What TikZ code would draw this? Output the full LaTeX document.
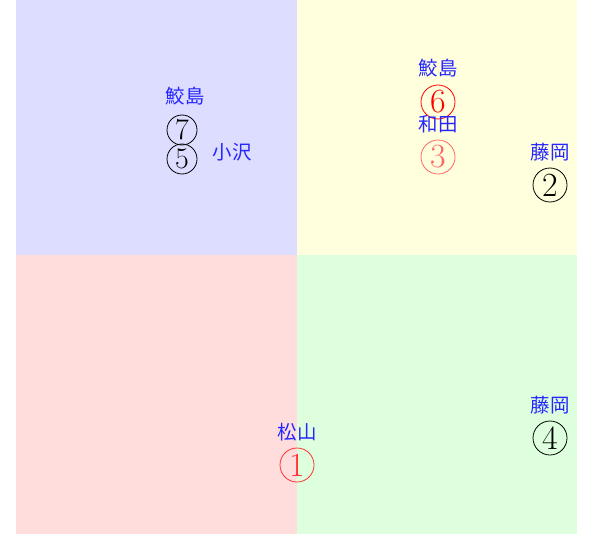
\documentclass[tikz,border=0pt]{standalone}
\usepackage{fontspec}
\newfontfamily\jp{Noto Sans CJK JP}
\definecolor{qblue}{HTML}{DDDDFF}
\definecolor{qyellow}{HTML}{FFFFDD}
\definecolor{qred}{HTML}{FFDDDD}
\definecolor{qgreen}{HTML}{DDFFDD}
\definecolor{lbl}{HTML}{2626FF}
\begin{document}
\begin{tikzpicture}[x=1bp,y=-1bp,
  person/.style={text=lbl,font=\jp\fontsize{19.5}{19.5}\selectfont,inner sep=0pt},
  num/.style={circle,draw,line width=0.8bp,inner sep=0pt,minimum size=30bp,font=\fontsize{30}{30}\selectfont},
  bignum/.style={circle,draw,line width=0.8bp,inner sep=0pt,minimum size=34bp,font=\fontsize{34}{34}\selectfont}]
\useasboundingbox (0,0) rectangle (595,534);
\fill[qblue] (16,0) rectangle (297,255);
\fill[qyellow] (297,0) rectangle (577,255);
\fill[qred] (16,255) rectangle (297,534);
\fill[qgreen] (297,255) rectangle (577,534);
% top-left
\node[person] (samejima1) at (185,96) {鮫島};
\node[num] (n7) at (182,130) {7};
\node[num] (n5) at (182,159) {5};
\node[person] (ozawa) at (232,152) {小沢};
% top-right
\node[person] (samejima2) at (438,68) {鮫島};
\node[bignum,draw=red,text=red] (n6) at (438,102) {6};
\node[person] (wada) at (438,124) {和田};
\node[bignum,draw=red!60,text=red!60] (n3) at (438,157) {3};
\node[person] (fujioka1) at (550,152) {藤岡};
\node[bignum] (n2) at (550,185) {2};
% bottom
\node[person] (fujioka2) at (550,405) {藤岡};
\node[bignum] (n4) at (550,438) {4};
\node[person] (matsuyama) at (297,432) {松山};
\node[bignum,draw=red!80,text=red!80] (n1) at (297,465) {1};
\end{tikzpicture}
\end{document}
